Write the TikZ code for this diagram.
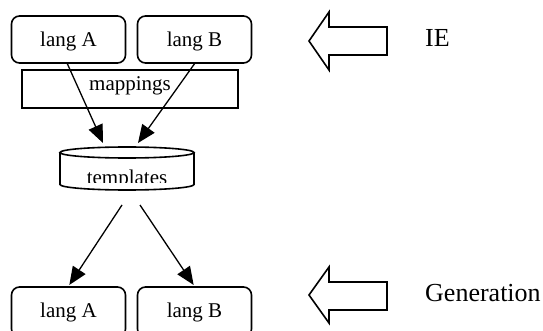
\documentclass[tikz,border=0pt]{standalone}
\usepackage{fontspec}
\setmainfont{Liberation Serif}
\usetikzlibrary{arrows.meta}
\begin{document}
\begin{tikzpicture}[x=1pt,y=-1pt,
  langbox/.style={draw, line width=1.6pt, rounded corners=8pt, minimum width=114pt, minimum height=47pt, inner sep=0pt},
  plainbox/.style={draw, line width=1.6pt, minimum width=216pt, minimum height=38pt, inner sep=0pt},
  lbl/.style={anchor=base, inner sep=0pt, font=\fontsize{21}{25}\selectfont},
  side/.style={anchor=base west, inner sep=0pt, font=\fontsize{26}{30}\selectfont},
  conn/.style={line width=1.3pt, -{Triangle[length=18pt,width=15pt]}},
  blockarrow/.style={draw, line width=1.6pt, line join=miter, fill=white}]
\useasboundingbox (0,0) rectangle (543,331);

% source languages
\node[langbox] (la) at (68.5,39.5) {};
\node[langbox] (lb) at (194.5,39.5) {};
\node[lbl] (la-t) at (68.5,47) {lang A};
\node[lbl] (lb-t) at (194.5,47) {lang B};

% mapping layer
\node[plainbox] (map) at (130,89) {};
\node[lbl] (map-t) at (130,91) {mappings};

% template store (cylinder)
\node[minimum width=134pt, minimum height=43pt, inner sep=0pt] (tpl) at (127,168.5) {};
\draw[line width=1.6pt, fill=white] (60,152.5) -- (60,184.5)
  arc[start angle=180, end angle=360, x radius=67pt, y radius=5.5pt] -- (194,152.5);
\draw[line width=1.6pt, fill=white] (127,152.5) ellipse [x radius=67pt, y radius=5.5pt];
\begin{scope}
  \clip (61,159) rectangle (193,182.5);
  \node[lbl] (tpl-t) at (127,184.5) {templates};
\end{scope}

% connectors into and out of the store
\coordinate (tin1) at (103,143);
\coordinate (tin2) at (138,143);
\coordinate (tout1) at (122,205);
\coordinate (tout2) at (140,205);
\draw[conn] (67,63) -- (tin1);
\draw[conn] (lb.south) -- (tin2);

% generated languages
\node[langbox, minimum height=50pt] (ga) at (68.5,312) {};
\node[langbox, minimum height=50pt] (gb) at (194.5,312) {};
\node[lbl] (ga-t) at (68.5,317) {lang A};
\node[lbl] (gb-t) at (194.5,317) {lang B};
\draw[conn, shorten >=1.5pt] (tout1) -- (ga.north);
\draw[conn, shorten >=1.5pt] (tout2) -- (gb.north);

% direction indicators
\draw[blockarrow] (309,41) -- (329,12) -- (329,27) -- (387,27) -- (387,55) -- (329,55) -- (329,70) -- cycle;
\draw[blockarrow] (309,295) -- (329,267) -- (329,282) -- (387,282) -- (387,310) -- (329,310) -- (329,323) -- cycle;
\node[side] (ie) at (425,47) {IE};
\node[side] (gen) at (425,301) {Generation};
\end{tikzpicture}
\end{document}
